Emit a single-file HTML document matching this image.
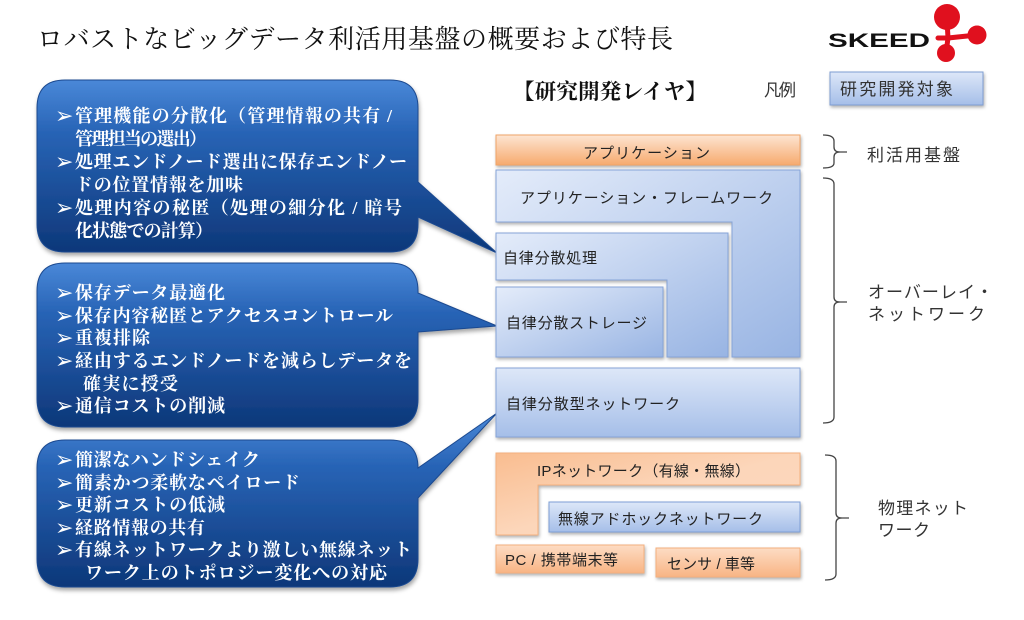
<!DOCTYPE html>
<html><head><meta charset="utf-8"><style>
html,body{margin:0;padding:0;background:#fff;}
svg{display:block;}
.t{font-family:"Liberation Serif","Noto Serif CJK SC",serif;}
.cw{font-family:"Liberation Serif","Noto Serif CJK SC",serif;font-weight:bold;fill:#fff;font-size:18px;}
.ar{font-family:"DejaVu Sans",sans-serif;fill:#fff;font-size:22px;font-weight:bold;}
.bx{font-family:"Liberation Sans","Noto Sans CJK JP",sans-serif;fill:#222;font-size:15px;}
.lb{font-family:"Liberation Sans","Noto Sans CJK JP",sans-serif;fill:#333;font-size:17px;}
</style></head><body>
<svg width="1024" height="620" viewBox="0 0 1024 620" xmlns="http://www.w3.org/2000/svg">
<defs>
<linearGradient id="cg" x1="0" y1="0" x2="0" y2="1">
<stop offset="0" stop-color="#4a88d8"/><stop offset="0.3" stop-color="#2864b6"/><stop offset="1" stop-color="#0d3779"/>
</linearGradient>
<linearGradient id="bg" x1="0" y1="0" x2="1" y2="1">
<stop offset="0" stop-color="#e4ecfa"/><stop offset="1" stop-color="#98b4e3"/>
</linearGradient>
<linearGradient id="bgv" x1="0" y1="0" x2="0" y2="1">
<stop offset="0" stop-color="#dde7f8"/><stop offset="1" stop-color="#a5bee8"/>
</linearGradient>
<linearGradient id="og" x1="0" y1="0" x2="0" y2="1">
<stop offset="0" stop-color="#fde5d2"/><stop offset="1" stop-color="#f6aa6e"/>
</linearGradient>
<linearGradient id="og2" x1="0" y1="0" x2="1" y2="1">
<stop offset="0" stop-color="#f9bd90"/><stop offset="0.5" stop-color="#fcd6ba"/><stop offset="1" stop-color="#fcd8be"/>
</linearGradient>
<linearGradient id="og3" x1="0" y1="0" x2="0" y2="1">
<stop offset="0" stop-color="#fddcc4"/><stop offset="1" stop-color="#f8b484"/>
</linearGradient>
<filter id="sh" x="-5%" y="-5%" width="115%" height="125%">
<feDropShadow dx="1" dy="2" stdDeviation="1.5" flood-color="#000" flood-opacity="0.3"/>
</filter>
<filter id="csh" x="-5%" y="-5%" width="115%" height="120%">
<feDropShadow dx="1" dy="3" stdDeviation="2" flood-color="#000" flood-opacity="0.35"/>
</filter>
</defs>

<!-- Title -->
<text class="t" x="37" y="48" font-size="26" fill="#111" textLength="636">ロバストなビッグデータ利活用基盤の概要および特長</text>

<!-- SKEED logo -->
<text x="828" y="47" font-family="Liberation Sans, sans-serif" font-weight="bold" font-size="19" fill="#111" textLength="102" lengthAdjust="spacingAndGlyphs">SKEED</text>
<g stroke="#e0101e" stroke-width="5" stroke-linecap="round" fill="none">
<path d="M938 38 H948 L947 20 M948 38 L977 35 M948 38 L946 53"/>
</g>
<g fill="#e0101e">
<circle cx="947" cy="17" r="13"/>
<circle cx="977" cy="35" r="9.5"/>
<circle cx="946" cy="53" r="9"/>
</g>

<!-- Header right -->
<text class="t" x="513" y="99" font-size="21.5" font-weight="bold" fill="#111" textLength="194">【研究開発レイヤ】</text>
<text class="lb" x="764" y="96" textLength="32">凡例</text>
<rect x="830" y="72" width="153" height="33" fill="url(#bgv)" stroke="#7f9ed3" stroke-width="1" filter="url(#sh)"/>
<text class="lb" x="840" y="95" font-size="18" fill="#222" textLength="113">研究開発対象</text>

<!-- Callouts -->
<path filter="url(#csh)" fill="url(#cg)" stroke="#1b4a90" stroke-width="1" d="M65 80 H390 Q418 80 418 108 V182 L497 253 L418 217 V224 Q418 252 390 252 H65 Q37 252 37 224 V108 Q37 80 65 80 Z"/>
<path filter="url(#csh)" fill="url(#cg)" stroke="#1b4a90" stroke-width="1" d="M65 263 H390 Q418 263 418 291 V293 L497 326 L418 332 V399 Q418 427 390 427 H65 Q37 427 37 399 V291 Q37 263 65 263 Z"/>
<path filter="url(#csh)" fill="url(#cg)" stroke="#1b4a90" stroke-width="1" d="M65 440 H390 Q418 440 418 468 L497 413 L418 498 V559 Q418 587 390 587 H65 Q37 587 37 559 V468 Q37 440 65 440 Z"/>

<!-- Callout 1 text -->
<text class="ar" x="55" y="123">➢</text>
<text class="cw" x="75" y="122" textLength="317">管理機能の分散化（管理情報の共有 /</text>
<text class="cw" x="75" y="145" textLength="132">管理担当の選出）</text>
<text class="ar" x="55" y="169">➢</text>
<text class="cw" x="75" y="168" textLength="332">処理エンドノード選出に保存エンドノー</text>
<text class="cw" x="75" y="191" textLength="168">ドの位置情報を加味</text>
<text class="ar" x="55" y="215">➢</text>
<text class="cw" x="75" y="214" textLength="327">処理内容の秘匿（処理の細分化 / 暗号</text>
<text class="cw" x="75" y="237" textLength="138">化状態での計算）</text>

<!-- Callout 2 text -->
<text class="ar" x="55" y="300">➢</text>
<text class="cw" x="75" y="299" textLength="150">保存データ最適化</text>
<text class="ar" x="55" y="323">➢</text>
<text class="cw" x="75" y="322" textLength="318">保存内容秘匿とアクセスコントロール</text>
<text class="ar" x="55" y="345">➢</text>
<text class="cw" x="75" y="344" textLength="75">重複排除</text>
<text class="ar" x="55" y="368">➢</text>
<text class="cw" x="75" y="367" textLength="337">経由するエンドノードを減らしデータを</text>
<text class="cw" x="83" y="390" textLength="95">確実に授受</text>
<text class="ar" x="55" y="413">➢</text>
<text class="cw" x="75" y="412" textLength="150">通信コストの削減</text>

<!-- Callout 3 text -->
<text class="ar" x="55" y="467">➢</text>
<text class="cw" x="75" y="466" textLength="185">簡潔なハンドシェイク</text>
<text class="ar" x="55" y="490">➢</text>
<text class="cw" x="75" y="489" textLength="225">簡素かつ柔軟なペイロード</text>
<text class="ar" x="55" y="512">➢</text>
<text class="cw" x="75" y="511" textLength="150">更新コストの低減</text>
<text class="ar" x="55" y="535">➢</text>
<text class="cw" x="75" y="534" textLength="130">経路情報の共有</text>
<text class="ar" x="55" y="557">➢</text>
<text class="cw" x="75" y="556" textLength="337">有線ネットワークより激しい無線ネット</text>
<text class="cw" x="85" y="579" textLength="302">ワーク上のトポロジー変化への対応</text>

<!-- Layer boxes -->
<g filter="url(#sh)">
<rect x="496" y="135" width="304" height="30" fill="url(#og)" stroke="#f0a468" stroke-width="1"/>
<path d="M496 170 H800 V357 H732 V222 H496 Z" fill="url(#bg)" stroke="#86a4d8" stroke-width="1"/>
<path d="M496 233 H728 V357 H667 V280 H496 Z" fill="url(#bg)" stroke="#86a4d8" stroke-width="1"/>
<rect x="496" y="287" width="167" height="70" fill="url(#bg)" stroke="#86a4d8" stroke-width="1"/>
<rect x="496" y="368" width="304" height="69" fill="url(#bgv)" stroke="#86a4d8" stroke-width="1"/>
<path d="M496 453 H800 V485 H538 V535 H496 Z" fill="url(#og2)" stroke="#f4b07e" stroke-width="1"/>
<rect x="549" y="502" width="251" height="30" fill="url(#bgv)" stroke="#7e9fd6" stroke-width="1"/>
<rect x="496" y="545" width="148" height="28" fill="url(#og3)" stroke="#f4b07e" stroke-width="1"/>
<rect x="656" y="548" width="144" height="29" fill="url(#og3)" stroke="#f4b07e" stroke-width="1"/>
</g>

<text class="bx" x="583" y="158" textLength="127">アプリケーション</text>
<text class="bx" x="520" y="203" textLength="253">アプリケーション・フレームワーク</text>
<text class="bx" x="503" y="263" textLength="94">自律分散処理</text>
<text class="bx" x="506" y="328" textLength="141">自律分散ストレージ</text>
<text class="bx" x="506" y="409" textLength="174">自律分散型ネットワーク</text>
<text class="bx" x="537" y="476" textLength="213">IPネットワーク（有線・無線）</text>
<text class="bx" x="558" y="524" textLength="205">無線アドホックネットワーク</text>
<text class="bx" x="505" y="565" textLength="113">PC / 携帯端末等</text>
<text class="bx" x="667" y="569" textLength="88">センサ / 車等</text>

<!-- Brackets -->
<g fill="none" stroke="#444" stroke-width="1.3">
<path d="M823 135 Q834 135 834 141 V147 Q834 152 840 152 H847 M840 152 Q834 152 834 157 V163 Q834 168 823 168"/>
<path d="M823 178 Q834 178 834 184 V297 Q834 302 840 302 H847 M840 302 Q834 302 834 307 V417 Q834 423 823 423"/>
<path d="M825 455 Q836 455 836 461 V513 Q836 518 842 518 H849 M842 518 Q836 518 836 523 V574 Q836 580 825 580"/>
</g>

<text class="lb" x="867" y="161" textLength="93">利活用基盤</text>
<text class="lb" x="868" y="298" textLength="125">オーバーレイ・</text>
<text class="lb" x="868" y="320" textLength="117">ネットワーク</text>
<text class="lb" x="878" y="514" textLength="90">物理ネット</text>
<text class="lb" x="878" y="536" textLength="52">ワーク</text>
</svg>
</body></html>
